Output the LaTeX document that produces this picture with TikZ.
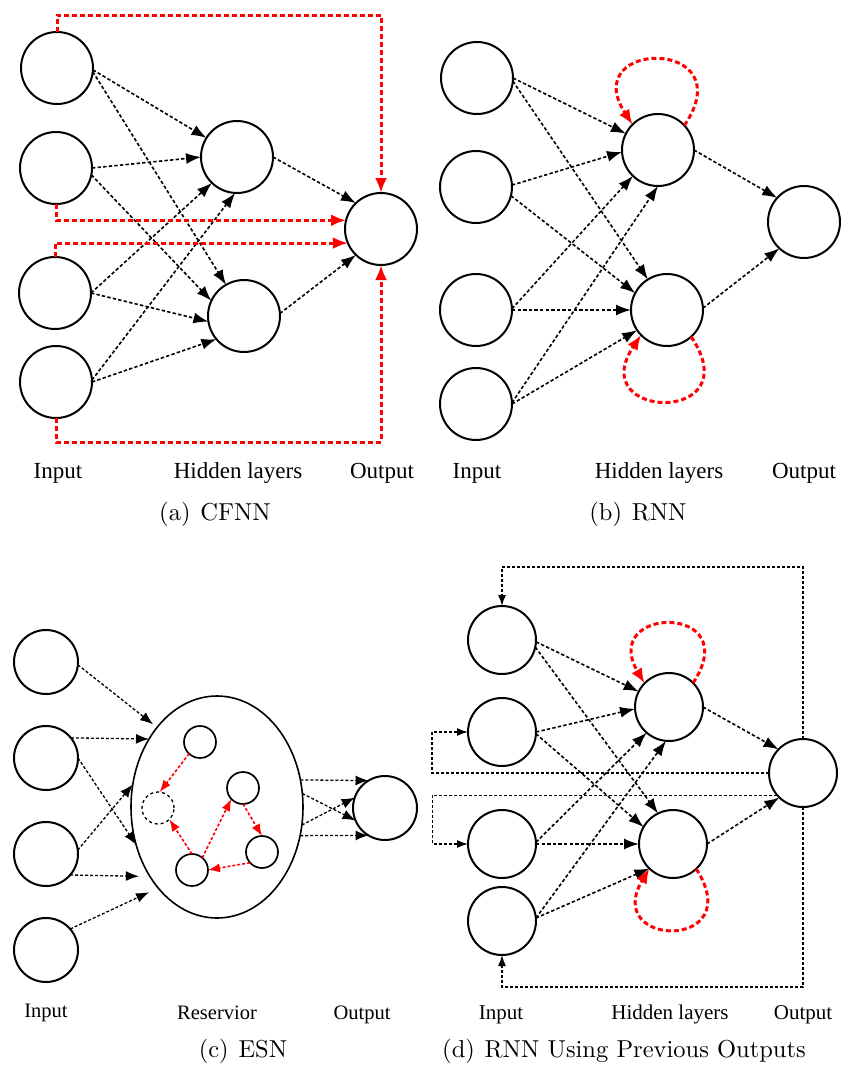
\documentclass[tikz,border=0pt]{standalone}
\usepackage{fontspec}
\newfontfamily\tnr{Liberation Serif}
\newfontfamily\capfont{lmroman10-regular.otf}
\usetikzlibrary{arrows.meta,shapes.geometric}
\begin{document}
\begin{tikzpicture}[x=1pt,y=1pt,
 neu/.style={circle,draw,line width=2pt,minimum size=72pt,inner sep=0pt,outer sep=0pt},
 sml/.style={circle,draw,line width=1.7pt,minimum size=32pt,inner sep=0pt,outer sep=0pt},
 blk/.style={line width=1.6pt,dash pattern=on 3.4pt off 2.2pt,-{Latex[length=15pt,width=11pt]}},
 blkc/.style={line width=1.3pt,dash pattern=on 3pt off 2pt,-{Latex[length=13pt,width=10pt]}},
 fb/.style={line width=1.3pt,dash pattern=on 3pt off 2pt,-{Latex[length=11pt,width=8pt]}},
 rd/.style={red,line width=3pt,dash pattern=on 5pt off 3pt,-{Latex[length=15pt,width=12pt]}},
 rdc/.style={red,line width=1.6pt,dash pattern=on 3pt off 2pt,-{Latex[length=12pt,width=9pt]}},
 lab/.style={font=\tnr\fontsize{23}{26}\selectfont,anchor=base,inner sep=0pt},
 labc/.style={font=\tnr\fontsize{20.5}{24}\selectfont,anchor=base,inner sep=0pt},
 labd/.style={font=\tnr\fontsize{21}{24}\selectfont,anchor=base,inner sep=0pt},
 captxt/.style={font=\capfont\fontsize{24.5}{30}\selectfont,anchor=base,inner sep=0pt}]
\useasboundingbox (0,0) rectangle (846,-1068);
\fill[white] (0,0) rectangle (846,-1068);

% ---------------- (a) CFNN
\node[neu] (a1) at (57,-68) {};
\node[neu] (a2) at (56,-168) {};
\node[neu] (a3) at (55,-293) {};
\node[neu] (a4) at (56,-382) {};
\node[neu] (ah1) at (237,-157) {};
\node[neu] (ah2) at (244,-316) {};
\node[neu] (ao) at (381,-229) {};
\draw[blk] (a1.-3) -- (ah1.148);
\draw[blk] (a1.-6) -- (ah2.120);
\draw[blk] (a2.0) -- (ah1.180);
\draw[blk] (a2.-11) -- (ah2.155);
\draw[blk] (a3.0) -- (ah1.226);
\draw[blk] (a3.0) -- (ah2.189);
\draw[blk] (a4.3) -- (ah1.267);
\draw[blk] (a4.0) -- (ah2.220);
\draw[blk] (ah1.0) -- (ao.134);
\draw[blk] (ah2.4) -- (ao.226);
\draw[rd] (a1.north) -- ++(0,17) -| (ao.north);
\draw[rd] (a2.south) |- (ao.166);
\draw[rd] (a3.north) |- (ao.203);
\draw[rd] (a4.south) -- ++(0,-24) -| (ao.south);
\node[lab] (la1) at (58,-478) {Input};
\node[lab] (la2) at (238,-478) {Hidden layers};
\node[lab] (la3) at (382,-478) {Output};
\node[captxt] (ca) at (215,-520) {(a)\hspace{0.4em}CFNN};

% ---------------- (b) RNN
\node[neu] (b1) at (477,-78) {};
\node[neu] (b2) at (476,-187) {};
\node[neu] (b3) at (476,-310) {};
\node[neu] (b4) at (476,-404) {};
\node[neu] (bh1) at (658,-150) {};
\node[neu] (bh2) at (667,-310) {};
\node[neu] (bo) at (804,-222) {};
\draw[blk] (b1.0) -- (bh1.153);
\draw[blk] (b1.-5) -- (bh2.122);
\draw[blk] (b2.3) -- (bh1.183);
\draw[blk] (b2.-14) -- (bh2.152);
\draw[blk] (b3.2) -- (bh1.226);
\draw[blk] (b3.0) -- (bh2.180);
\draw[blk] (b4.2) -- (bh1.270);
\draw[blk] (b4.0) -- (bh2.214);
\draw[blk] (bh1.0) -- (bo.138);
\draw[blk] (bh2.3) -- (bo.227);
\draw[rd] (bh1.43) .. controls +(60,88) and +(-56,86) .. (bh1.135);
\draw[rd] (bh2.-48) .. controls +(60,-88) and +(-58,-86) .. (bh2.-136);
\node[lab] (lb1) at (477,-478) {Input};
\node[lab] (lb2) at (659,-478) {Hidden layers};
\node[lab] (lb3) at (804,-478) {Output};
\node[captxt] (cb) at (638,-520) {(b)\hspace{0.4em}RNN};

% ---------------- (c) ESN
\node[neu,minimum size=64pt] (c1) at (46,-662) {};
\node[neu,minimum size=64pt] (c2) at (46,-758) {};
\node[neu,minimum size=64pt] (c3) at (46,-854) {};
\node[neu,minimum size=64pt] (c4) at (46,-950) {};
\node[ellipse,draw,line width=1.6pt,minimum width=172pt,minimum height=222pt,inner sep=0pt,outer sep=0pt] (res) at (217,-807) {};
\node[sml] (n1) at (200,-742) {};
\node[sml,dashed,line width=1.3pt] (n2) at (158,-808) {};
\node[sml] (n3) at (243,-788) {};
\node[sml] (n4) at (262,-852) {};
\node[sml] (n5) at (192,-870) {};
\node[neu,minimum size=64pt] (co) at (385,-808) {};
\draw[blkc,shorten >=5pt] (c1.-5) -- (res.127);
\draw[blkc] (c2.39) -- (res.135);
\draw[blkc] (c2.0) -- (res.205);
\draw[blkc] (c3.7) -- (res.165);
\draw[blkc,shorten >=11pt] (c3.-41) -- (res.226);
\draw[blkc,shorten >=10pt] (c4.41) -- (res.234);
\draw[blkc] (res.18) -- (co.121);
\draw[blkc] (res.9) -- (co.203);
\draw[blkc] (res.-12) -- (co.161);
\draw[blkc] (res.-19) -- (co.239);
\draw[rdc] (n1.227) -- (n2.84);
\draw[rdc] (n5.90) -- (n2.-45);
\draw[rdc] (n5.50) -- (n3.223);
\draw[rdc] (n3.270) -- (n4.90);
\draw[rdc] (n4.222) -- (n5.0);
\node[labc] (lc1) at (46,-1017) {Input};
\node[labc] (lc2) at (217,-1019) {Reservior};
\node[labc] (lc3) at (362,-1019) {Output};
\node[captxt] (cc) at (243,-1057) {(c)\hspace{0.4em}ESN};

% ---------------- (d) RNN using previous outputs
\node[neu,minimum size=68pt] (d1) at (502,-640) {};
\node[neu,minimum size=68pt] (d2) at (502,-732) {};
\node[neu,minimum size=68pt] (d3) at (502,-844) {};
\node[neu,minimum size=68pt] (d4) at (502,-921) {};
\node[neu,minimum size=68pt] (dh1) at (669,-707) {};
\node[neu,minimum size=68pt] (dh2) at (673,-844) {};
\node[neu,minimum size=68pt] (dout) at (803,-773) {};
\draw[blk] (d1.-3) -- (dh1.153);
\draw[blk] (d1.-12) -- (dh2.116);
\draw[blk] (d2.0) -- (dh1.183);
\draw[blk] (d2.-3) -- (dh2.150);
\draw[blk] (d3.3) -- (dh1.229);
\draw[blk] (d3.0) -- (dh2.180);
\draw[blk] (d4.5) -- (dh1.265);
\draw[blk] (d4.5) -- (dh2.226);
\draw[blk] (dh1.0) -- (dout.136);
\draw[blk] (dh2.0) -- (dout.226);
\draw[rd] (dh1.45) .. controls +(53,80) and +(-46,78) .. (dh1.136);
\draw[rd] (dh2.-47) .. controls +(53,-82) and +(-48,-80) .. (dh2.-134);
\draw[fb] (dout.north) -- ++(0,172) -| (d1.north);
\draw[fb] (dout.south) -- ++(0,-180) -| (d4.south);
\draw[fb] (dout.west) -- ++(-337,0) |- (d2.west);
\draw[fb] (dout.221) -- ++(-345,0) |- (d3.west);
\node[labd] (ld1) at (501,-1019) {Input};
\node[labd] (ld2) at (670,-1019) {Hidden layers};
\node[labd] (ld3) at (803,-1019) {Output};
\node[captxt] (cd) at (624,-1057) {(d)\hspace{0.4em}RNN Using Previous Outputs};
\end{tikzpicture}
\end{document}
